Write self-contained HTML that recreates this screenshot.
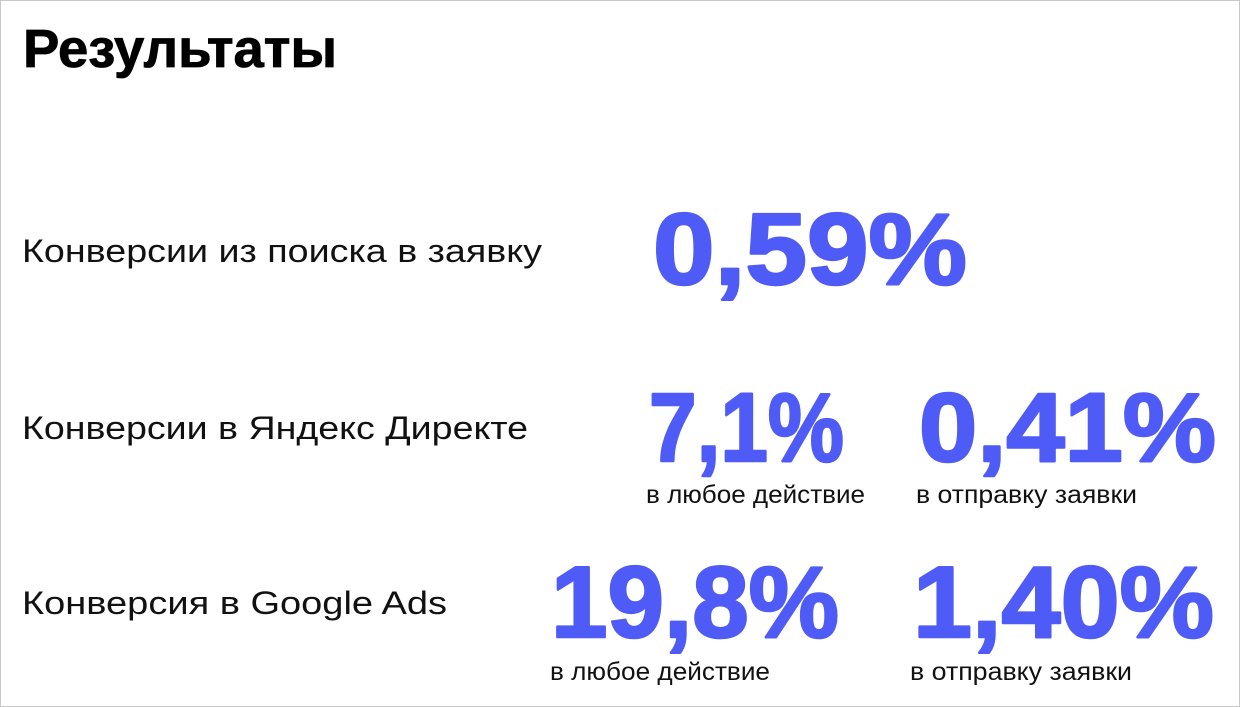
<!DOCTYPE html>
<html><head><meta charset="utf-8"><style>
html,body{margin:0;padding:0;background:#fff;}
svg{display:block;}
text{font-family:"Liberation Sans","DejaVu Sans",sans-serif;}
.b{font-weight:bold;fill:#4f5bf7;stroke:#4f5bf7;stroke-width:2.5;stroke-linejoin:round;}
.l{fill:#111;}
</style></head><body>
<svg width="1240" height="707" viewBox="0 0 1240 707" xmlns="http://www.w3.org/2000/svg">
<rect x="0.5" y="0.5" width="1239" height="706" fill="#fff" stroke="#c8c8c8"/>
<text x="23" y="67" font-size="54" font-weight="bold" fill="#000" stroke="#000" stroke-width="0.8" textLength="314" lengthAdjust="spacingAndGlyphs">Результаты</text>
<text class="l" x="22" y="262" font-size="32" textLength="520" lengthAdjust="spacingAndGlyphs">Конверсии из поиска в заявку</text>
<text class="l" x="22" y="439" font-size="32" textLength="506" lengthAdjust="spacingAndGlyphs">Конверсии в Яндекс Директе</text>
<text class="l" x="22" y="614" font-size="32" textLength="425" lengthAdjust="spacingAndGlyphs">Конверсия в Google Ads</text>
<text class="b" x="653" y="284" font-size="101" textLength="314" lengthAdjust="spacingAndGlyphs">0,59%</text>
<text class="b" x="649" y="461" font-size="97" textLength="195" lengthAdjust="spacingAndGlyphs">7,1%</text>
<text class="b" x="919" y="461" font-size="97" textLength="297" lengthAdjust="spacingAndGlyphs">0,41%</text>
<text class="l" x="646" y="503" font-size="25" textLength="219" lengthAdjust="spacingAndGlyphs">в любое действие</text>
<text class="l" x="916" y="503" font-size="25" textLength="221" lengthAdjust="spacingAndGlyphs">в отправку заявки</text>
<text class="b" x="551" y="637" font-size="101" textLength="288" lengthAdjust="spacingAndGlyphs">19,8%</text>
<text class="b" x="913" y="637" font-size="101" textLength="301" lengthAdjust="spacingAndGlyphs">1,40%</text>
<text class="l" x="550" y="680" font-size="25" textLength="220" lengthAdjust="spacingAndGlyphs">в любое действие</text>
<text class="l" x="910" y="680" font-size="25" textLength="222" lengthAdjust="spacingAndGlyphs">в отправку заявки</text>
</svg>
</body></html>
